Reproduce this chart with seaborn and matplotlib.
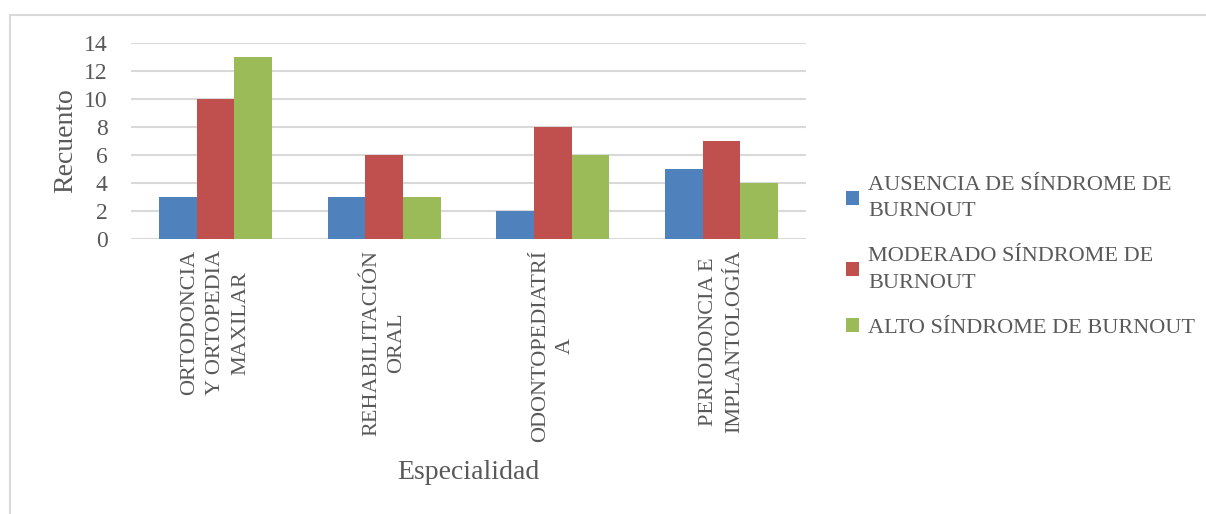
import pandas as pd
import matplotlib
matplotlib.use("Agg")
import matplotlib.pyplot as plt
import seaborn as sns
from matplotlib.lines import Line2D
from matplotlib.patches import Patch

especialidades = [
    "ORTODONCIA\nY ORTOPEDIA\nMAXILAR",
    "REHABILITACIÓN\nORAL",
    "ODONTOPEDIATRÍ\nA",
    "PERIODONCIA E\nIMPLANTOLOGÍA",
]
niveles = [
    "AUSENCIA DE SÍNDROME DE\nBURNOUT",
    "MODERADO SÍNDROME DE\nBURNOUT",
    "ALTO SÍNDROME DE BURNOUT",
]
ausencia = [3, 3, 2, 5]
moderado = [10, 6, 8, 7]
alto = [13, 3, 6, 4]
colores = ["#4F81BD", "#C0504D", "#9BBB59"]
y_ticks = [0, 2, 4, 6, 8, 10, 12, 14]

df = pd.DataFrame({
    "Especialidad": especialidades * 3,
    "Nivel": [niveles[0]] * 4 + [niveles[1]] * 4 + [niveles[2]] * 4,
    "Recuento": ausencia + moderado + alto,
})

sns.set_style("white")
plt.rcParams["font.family"] = ["Liberation Serif", "DejaVu Serif"]
gris = "#595959"

fig = plt.figure(figsize=(12.06, 5.14), dpi=100)
ax = fig.add_axes([131 / 1206, 1 - 239 / 514, 675 / 1206, 196 / 514])

sns.barplot(
    data=df,
    x="Especialidad",
    y="Recuento",
    hue="Nivel",
    order=especialidades,
    hue_order=niveles,
    palette=colores,
    width=0.67,
    saturation=1,
    linewidth=0,
    ax=ax,
)

ax.set_ylim(0, 14)
ax.set_yticks(y_ticks)
ax.set_xlim(-0.5, 3.5)
ax.grid(axis="y", color="#D9D9D9", linewidth=1.5)
ax.set_axisbelow(True)
for s in ax.spines.values():
    s.set_visible(False)
ax.tick_params(axis="both", length=0)
ax.tick_params(axis="y", labelsize=17, labelcolor=gris, pad=17)
ax.set_xticks(range(4))
ax.set_xticklabels(especialidades, rotation=90, fontsize=16, color=gris,
                   va="top", ha="center", multialignment="center",
                   linespacing=1.45)
ax.tick_params(axis="x", pad=8)

ax.set_ylabel("Recuento", fontsize=20, color=gris, labelpad=4)
ax.set_xlabel("Especialidad", fontsize=20, color=gris, labelpad=13)

handles = [Patch(facecolor=c, edgecolor="none") for c in colores]
leg = ax.legend(
    handles, niveles,
    loc="center left",
    bbox_to_anchor=(826 / 1206, 1 - 257 / 514),
    bbox_transform=fig.transFigure,
    frameon=False,
    fontsize=16,
    labelcolor=gris,
    handlelength=0.6,
    handleheight=0.6,
    handletextpad=0.4,
    labelspacing=1.15,
)
for t in leg.get_texts():
    t.set_linespacing(1.55)

# marco del gráfico
fig.add_artist(Line2D([10 / 1206, 1], [1 - 15 / 514] * 2, color="#D9D9D9", lw=1.5,
                      transform=fig.transFigure))
fig.add_artist(Line2D([10 / 1206] * 2, [0, 1 - 15 / 514], color="#D9D9D9", lw=1.5,
                      transform=fig.transFigure))

fig.savefig("out.png", dpi=100)
